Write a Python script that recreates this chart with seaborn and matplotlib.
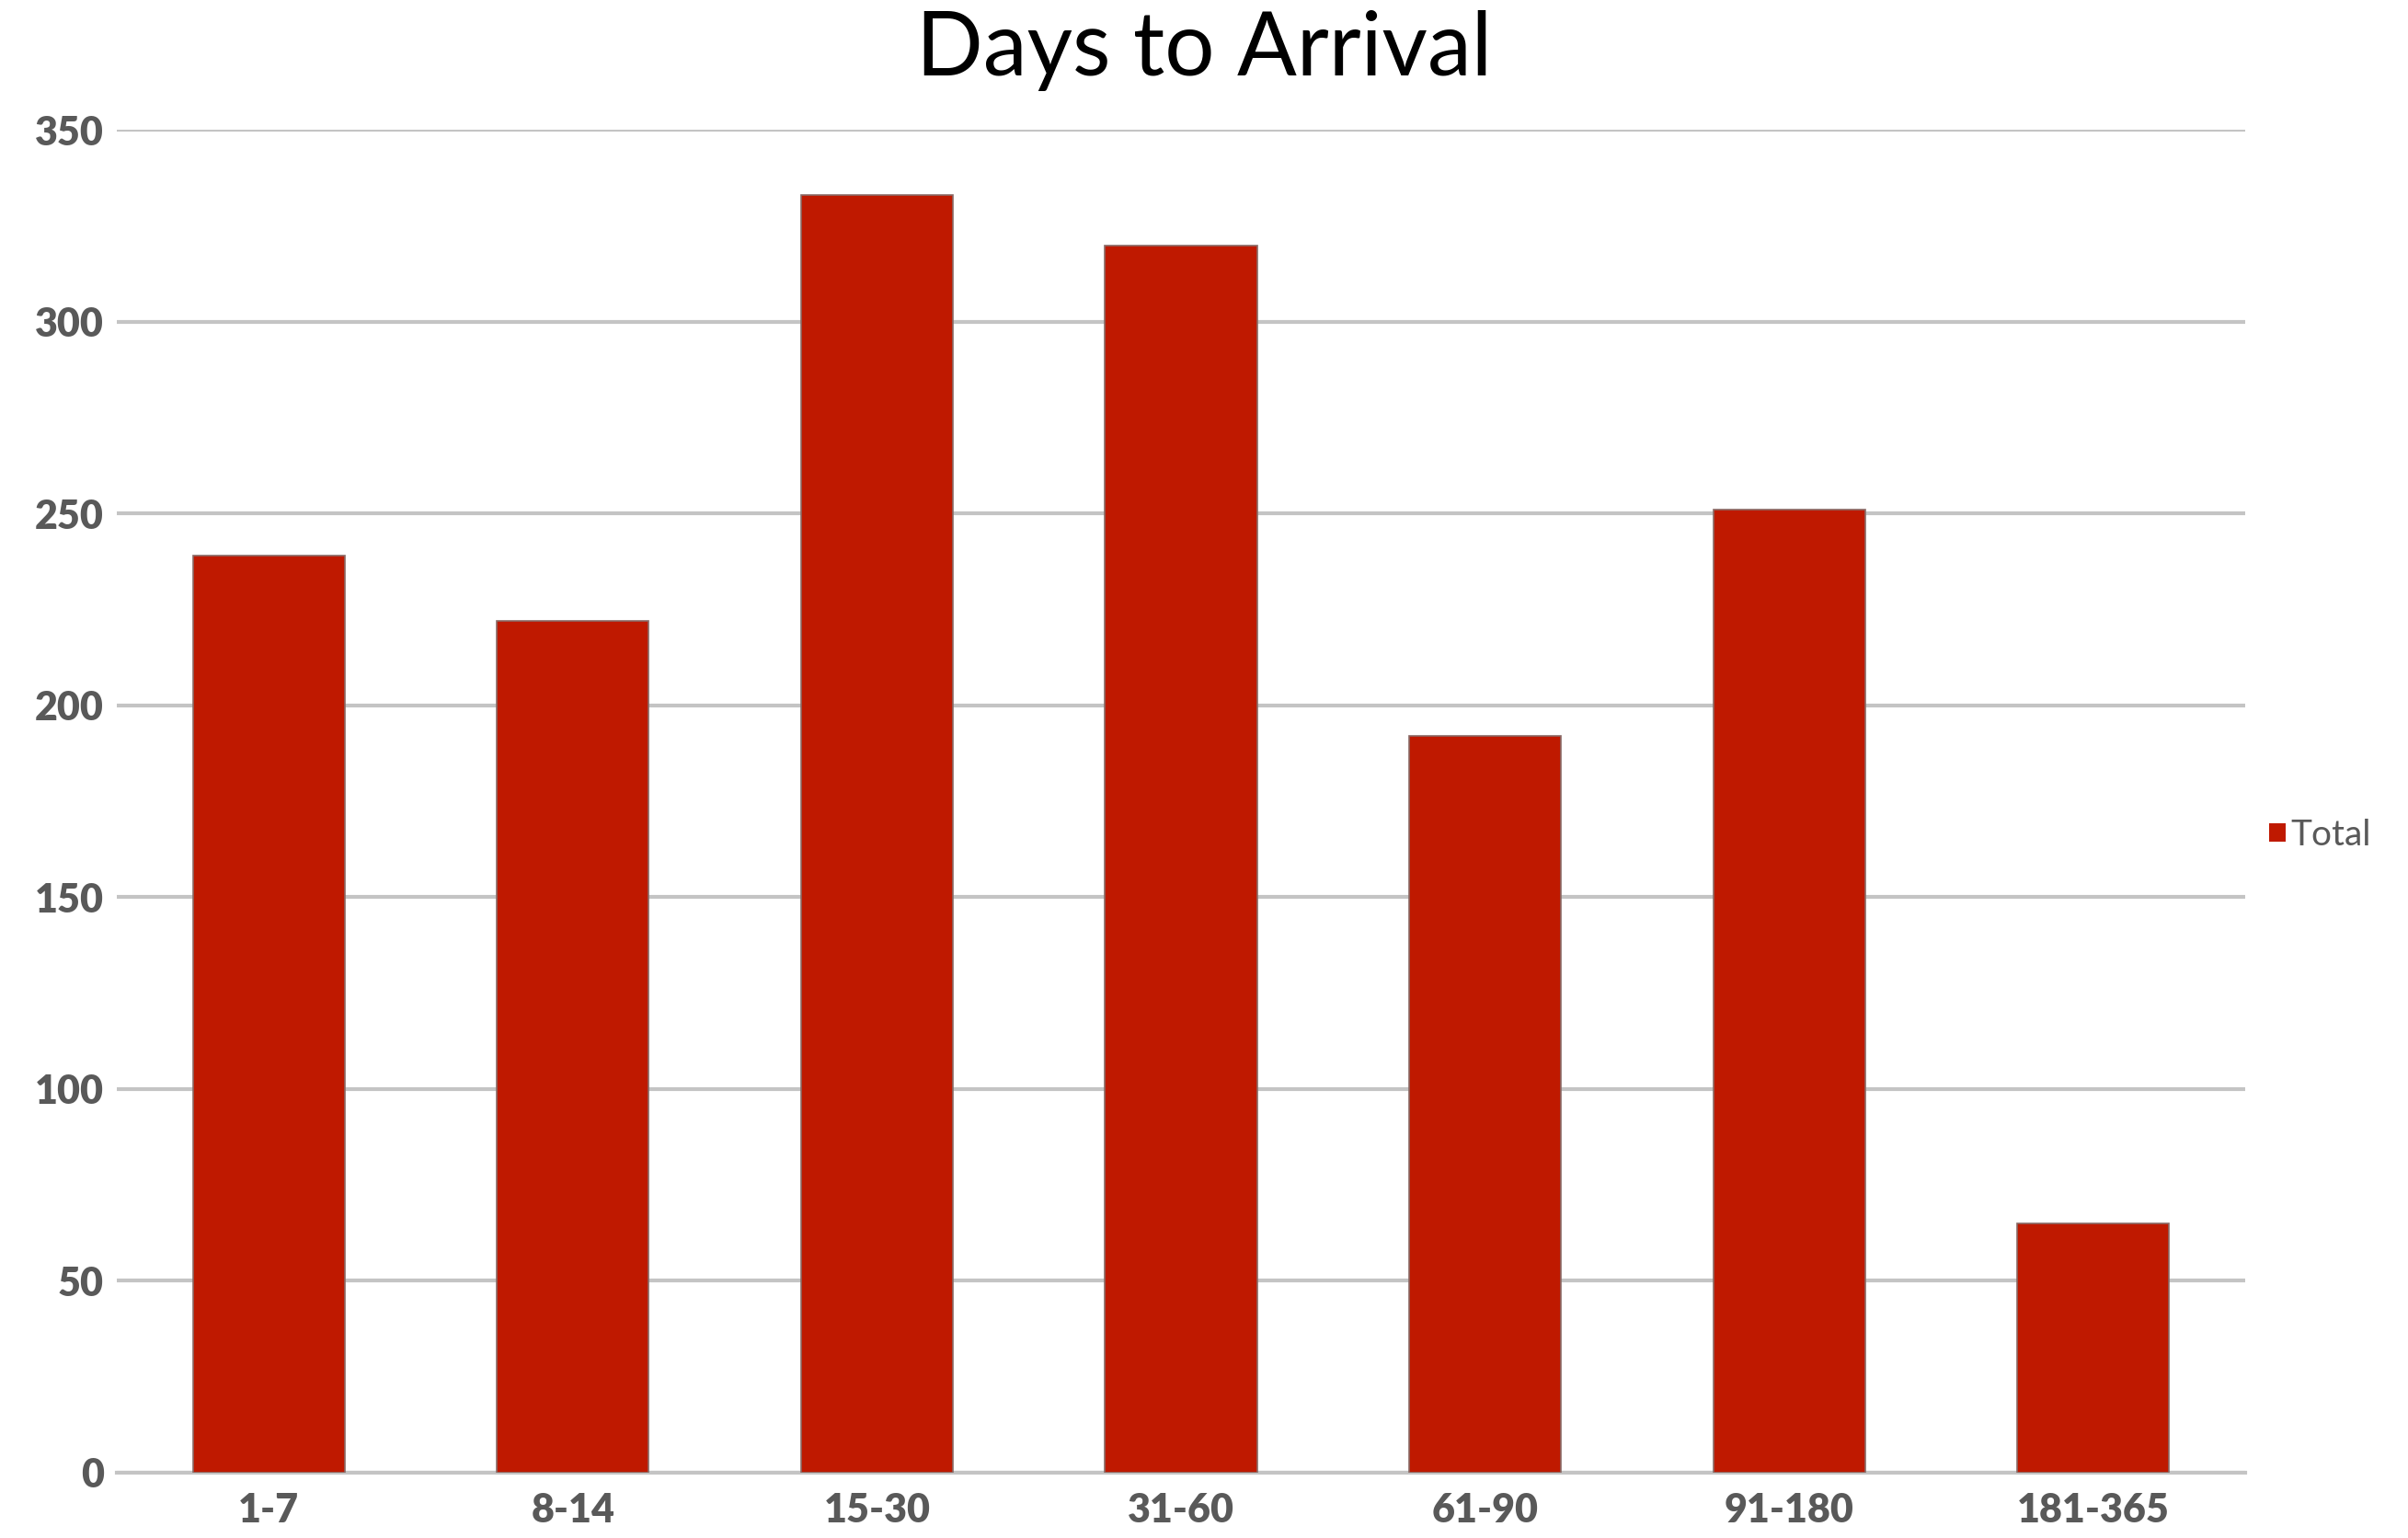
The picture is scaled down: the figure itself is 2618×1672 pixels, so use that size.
import matplotlib
matplotlib.use("Agg")
import matplotlib.pyplot as plt
import seaborn as sns
import pandas as pd
from matplotlib.patches import Patch

categories = ["1-7", "8-14", "15-30", "31-60", "61-90", "91-180", "181-365"]
totals = [239, 222, 333, 320, 192, 251, 65]
y_ticks = [0, 50, 100, 150, 200, 250, 300, 350]

sns.set_theme(style="white")
plt.rcParams["font.family"] = ["Lato", "DejaVu Sans"]

df = pd.DataFrame({"Days": categories, "Total": totals})

fig = plt.figure(figsize=(26.18, 16.72), dpi=100)
ax = fig.add_axes([0.0485, 0.0425, 0.8839, 0.8729])

bar_color = "#BF1900"
sns.barplot(data=df, x="Days", y="Total", color=bar_color, width=0.5,
            saturation=1, edgecolor="#8a6a66", linewidth=1.2, ax=ax, zorder=3)

ax.set_ylim(0, 350)
ax.set_xlim(-0.5, len(categories) - 0.5)
ax.set_yticks(y_ticks)
ax.set_yticklabels([str(v) for v in y_ticks])
ax.yaxis.grid(True, color="#c4c4c4", linewidth=3, zorder=0)
ax.set_axisbelow(True)
for s in ["top", "right", "left"]:
    ax.spines[s].set_visible(False)
ax.spines["bottom"].set_color("#c4c4c4")
ax.spines["bottom"].set_linewidth(3)
ax.tick_params(axis="both", length=0, labelsize=31, labelcolor="#595959")
ax.tick_params(axis="y", pad=10)
ax.tick_params(axis="x", pad=15)
for lbl in ax.get_xticklabels() + ax.get_yticklabels():
    lbl.set_fontweight("heavy")
ax.set_xlabel("")
ax.set_ylabel("")

fig.text(0.5, 0.967, "Days to Arrival", ha="center", va="center",
         fontsize=69, color="#000000")

handle = Patch(facecolor=bar_color, edgecolor="none", label="Total")
fig.legend(handles=[handle], loc="center left", bbox_to_anchor=(0.9425, 0.457),
           frameon=False, fontsize=28, labelcolor="#595959",
           handlelength=0.45, handleheight=0.45, handletextpad=0.15,
           borderpad=0, borderaxespad=0)

fig.savefig("out.png", dpi=100, facecolor="white")
